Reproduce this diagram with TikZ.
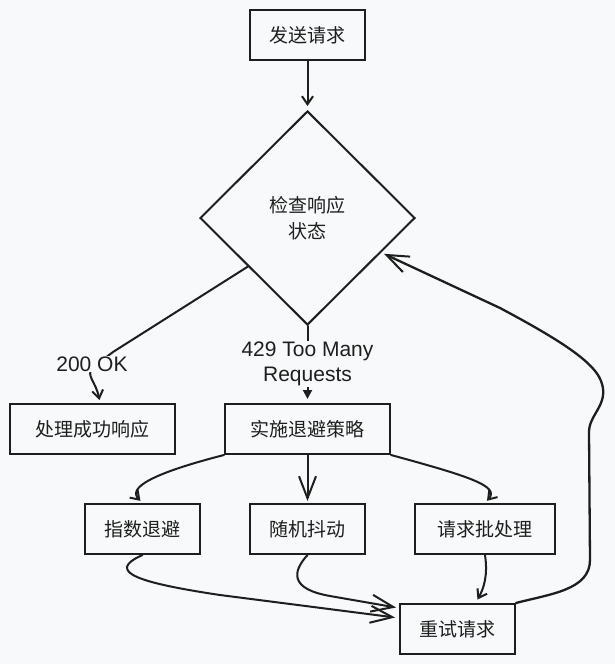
\documentclass[tikz,border=0pt]{standalone}
\usepackage{fontspec}
\setmainfont{Noto Sans CJK SC}
\newfontfamily\handfont{Liberation Sans}
\usetikzlibrary{shapes.geometric,arrows.meta,calc}
\definecolor{bg}{RGB}{248,249,250}
\definecolor{ink}{RGB}{30,30,30}
\tikzset{
  box/.style={draw=ink,line width=2pt,rectangle,minimum height=50pt,inner sep=0pt,
    font=\fontsize{19}{26}\selectfont,text=ink},
  dec/.style={draw=ink,line width=2pt,diamond,minimum width=215pt,minimum height=214pt,
    inner sep=0pt,align=center,font=\fontsize{19}{26}\selectfont,text=ink},
  lbl/.style={fill=bg,inner sep=1pt,align=center,font=\handfont\fontsize{21}{25}\selectfont,text=ink},
  conn/.style={draw=ink,line width=2pt,line cap=round,line join=round},
  arr/.style={conn,-{Straight Barb[length=8pt,width=11pt,line width=2pt]}},
  bigarr/.style={conn,-{Straight Barb[length=22pt,width=17pt,line width=2pt]}},
  tri/.style={conn,-{Triangle[length=9pt,width=9pt]}}
}
\begin{document}
\begin{tikzpicture}[x=1pt,y=-1pt]
\fill[bg] (0,0) rectangle (615,664);
\useasboundingbox (0,0) rectangle (615,664);

\node[box,minimum width=115pt] (send) at (307.5,35) {发送请求};
\node[dec] (check) at (307.5,218) {检查响应\\状态};
\node[box,minimum width=165pt] (ok) at (92,429) {处理成功响应};
\node[box,minimum width=165pt] (back) at (307.5,429) {实施退避策略};
\node[box,minimum width=115pt] (exp) at (142.5,529) {指数退避};
\node[box,minimum width=115pt] (jit) at (307.5,529) {随机抖动};
\node[box,minimum width=140pt] (batch) at (485,529) {请求批处理};
\node[box,minimum width=115pt] (retry) at (457.5,629) {重试请求};

\coordinate (okstart) at ($(check.west)!0.45!(check.south)$);
\coordinate (okend) at ($(ok.north)+(8,0)$);
\coordinate (retin) at ($(check.east)!0.32!(check.south)$);

% send -> check
\draw[arr,shorten >=4pt] (send) -- (check);

% 200 OK
\draw[arr,shorten >=3pt] (okstart) -- (113,352) -- (92,368) .. controls (86,376) and (96,382) .. (okend);
\node[lbl] (l200) at (92,364) {200 OK};

% 429
\draw[tri,shorten >=4pt] (check.south) -- (back.north);
\node[lbl] (l429) at (307.5,364) {429 Too Many\\Requests};

% branches
\draw[arr,shorten >=3pt] (back.south west) .. controls (150,474) and (128,488) .. (exp.north);
\draw[bigarr,shorten >=2pt] (back.south) -- (jit.north);
\draw[arr,shorten >=3pt] (back.south east) .. controls (468,476) and (500,486) .. (batch.north);

% to retry
\draw[bigarr,shorten >=4pt] (exp.south) .. controls (104,572) and (140,583) .. (220,595) -- ($(retry.west)+(0,-11)$);
\draw[bigarr,shorten >=3pt] (jit.south) .. controls (292,572) and (290,589) .. (330,596) -- ($(retry.west)+(0,-21)$);
\draw[arr,shorten >=4pt] (batch.south) .. controls (488,575) and (484,588) .. ($(retry.north)+(18,0)$);

% retry back to check
\draw[bigarr,line width=2.3pt,shorten >=3pt] (retry.north east) .. controls (550,594) and (590,590) .. (590,560)
  -- (589,432) .. controls (589,414) and (610,404) .. (601,381)
  .. controls (594,362) and (560,340) .. (500,308) -- (retin);
\end{tikzpicture}
\end{document}
